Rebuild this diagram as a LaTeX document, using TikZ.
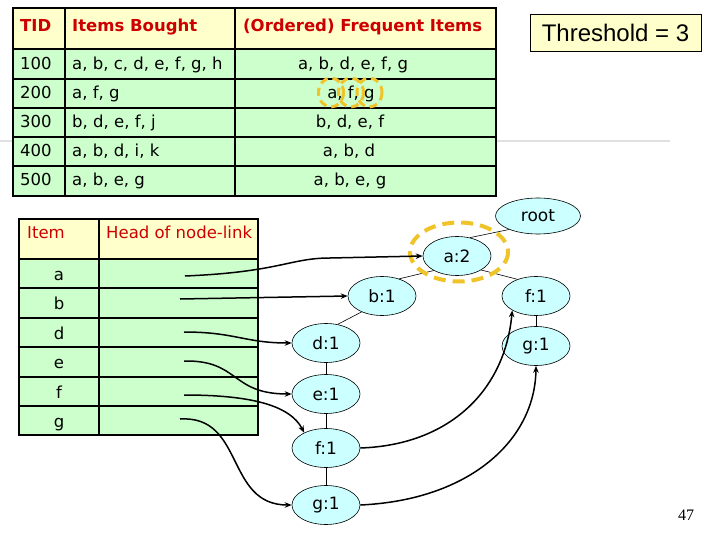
\documentclass[tikz,border=0pt]{standalone}
\usepackage{fontspec}
\setmainfont{DejaVu Sans}
\newfontfamily\arialf{Liberation Sans}
\newfontfamily\timesf{Liberation Serif}
\usetikzlibrary{arrows.meta,shapes.geometric}
\definecolor{hdrfill}{RGB}{255,255,204}
\definecolor{rowfill}{RGB}{204,255,204}
\definecolor{hdrred}{RGB}{204,0,0}
\definecolor{nodefill}{RGB}{204,255,255}
\definecolor{hiyellow}{RGB}{240,195,40}
\tikzset{
  gridline/.style={line width=2.2pt, black},
  hdrtxt/.style={text=hdrred, font=\fontsize{16.5}{19}\selectfont\bfseries, anchor=base west, inner sep=0},
  hdrtxtb/.style={text=hdrred, font=\fontsize{16.5}{19}\selectfont, anchor=base west, inner sep=0},
  celltxt/.style={font=\fontsize{16.5}{19}\selectfont, anchor=base west, inner sep=0},
  celltxtc/.style={font=\fontsize{16.5}{19}\selectfont, anchor=base, inner sep=0},
  tnode/.style={ellipse, draw, line width=0.6pt, fill=nodefill, minimum width=68pt, minimum height=39pt, inner sep=0, font=\fontsize{17}{20}\selectfont},
  tedge/.style={line width=0.6pt},
  link/.style={line width=1.5pt, -{Stealth[length=7pt,width=5.5pt]}},
  hidash/.style={draw=hiyellow, dash pattern=on 12pt off 7pt, line width=4pt},
  hidashs/.style={draw=hiyellow, dash pattern=on 8pt off 5pt, line width=3pt}
}
\begin{document}
\begin{tikzpicture}[x=1pt,y=-1pt]
\useasboundingbox (0,0) rectangle (720,540);
\fill[white] (0,0) rectangle (720,540);
% faint slide line
\draw[black!12, line width=1.5pt] (0,141) -- (670,141);
% ---------- top table ----------
\fill[hdrfill] (13,8) rectangle (496,49);
\fill[rowfill] (13,49) rectangle (496,196);
\draw[gridline] (13,8) rectangle (496,196);
\foreach \yy in {49,79,108,137,166} \draw[gridline] (13,\yy) -- (496,\yy);
\draw[gridline] (65,8) -- (65,196);
\draw[gridline] (235,8) -- (235,196);
\node[hdrtxt] (hTID) at (20,32) {TID};
\node[hdrtxt] (hIB) at (72,32) {Items Bought};
\node[hdrtxt] (hOF) at (243,32) {(Ordered) Frequent Items};
\node[celltxt] (t1) at (20,70) {100};
\node[celltxt] (t2) at (20,99) {200};
\node[celltxt] (t3) at (20,128) {300};
\node[celltxt] (t4) at (20,157) {400};
\node[celltxt] (t5) at (20,186) {500};
\node[celltxt] (i1) at (72,70) {a, b, c, d, e, f, g, h};
\node[celltxt] (i2) at (72,99) {a, f, g};
\node[celltxt] (i3) at (72,128) {b, d, e, f, j};
\node[celltxt] (i4) at (72,157) {a, b, d, i, k};
\node[celltxt] (i5) at (72,186) {a, b, e, g};
\node[celltxtc] (o1) at (353,70) {a, b, d, e, f, g};
\node[celltxtc] (o2) at (351,99) {a, f, g};
\node[celltxtc] (o3) at (350,128) {b, d, e, f};
\node[celltxtc] (o4) at (349,157) {a, b, d};
\node[celltxtc] (o5) at (350,186) {a, b, e, g};
\draw[hidashs] (331,92.5) ellipse (12.5 and 14.5);
\draw[hidashs] (351,92.5) ellipse (12.5 and 14.5);
\draw[hidashs] (369.5,92.5) ellipse (12.5 and 14.5);
% threshold
\node[draw, line width=0.6pt, fill=hdrfill, minimum width=171pt, minimum height=37pt, inner sep=0,
      font=\arialf\fontsize{24}{28}\selectfont] (thr) at (615.5,32.5) {Threshold = 3};
% ---------- header table ----------
\fill[hdrfill] (19,219) rectangle (258,259);
\fill[rowfill] (19,259) rectangle (258,435);
\draw[gridline] (19,219) rectangle (258,435);
\foreach \yy in {259,288,318,347,377,406} \draw[gridline] (19,\yy) -- (258,\yy);
\draw[gridline] (99,219) -- (99,435);
\node[hdrtxtb] (hItem) at (27,238) {Item};
\node[hdrtxtb] (hHead) at (106,238) {Head of node-link};
\node[celltxtc] (la) at (59,280) {a};
\node[celltxtc] (lb) at (59,309.5) {b};
\node[celltxtc] (ld) at (59,339) {d};
\node[celltxtc] (le) at (59,368.5) {e};
\node[celltxtc] (lf) at (59,398) {f};
\node[celltxtc] (lg) at (59,427) {g};
% ---------- tree ----------
\node[tnode, minimum width=85pt, minimum height=36pt] (root) at (538,216) {root};
\node[tnode] (a2) at (457,256) {a:2};
\node[tnode] (b1) at (382,296) {b:1};
\node[tnode] (f1R) at (536,296) {f:1};
\node[tnode] (g1R) at (536,346) {g:1};
\node[tnode] (d1) at (326,343) {d:1};
\node[tnode] (e1) at (326,394) {e:1};
\node[tnode] (f1L) at (326,448) {f:1};
\node[tnode] (g1L) at (326,505) {g:1};
\draw[tedge] (a2.55) -- (root.205);
\draw[tedge] (b1.45) -- (a2.212);
\draw[tedge] (a2.330) -- (f1R.138);
\draw[tedge] (d1.58) -- (b1.218);
\draw[tedge] (d1.south) -- (e1.north);
\draw[tedge] (e1.south) -- (f1L.north);
\draw[tedge] (f1L.south) -- (g1L.north);
\draw[tedge] (f1R.south) -- (g1R.north);
\draw[hidash] (459,252) ellipse (49 and 29.5);
% ---------- node-links ----------
\coordinate (sa) at (185,276);
\coordinate (sb) at (180,299);
\coordinate (sd) at (184,332);
\coordinate (se) at (184,361);
\coordinate (sf) at (184,395);
\coordinate (sg) at (180,419);
\draw[link] (sa) .. controls (280,272) and (290,258) .. (330,258) -- (a2.west);
\draw[link] (sb) -- (b1.west);
\draw[link] (sd) .. controls (235,332) and (245,343) .. (d1.west);
\draw[link] (se) .. controls (240,360) and (230,394) .. (e1.west);
\draw[link] (sf) .. controls (250,395) and (290,405) .. (f1L.145);
\draw[link] (sg) .. controls (245,415) and (225,505) .. (g1L.west);
\draw[link] (f1L.east) .. controls (450,445) and (505,390) .. (f1R.211);
\draw[link] (g1L.east) .. controls (470,500) and (535,440) .. (g1R.south);
% page number
\node[font=\timesf\fontsize{16}{19}\selectfont, inner sep=0] (pg) at (686,515) {47};
\end{tikzpicture}
\end{document}
